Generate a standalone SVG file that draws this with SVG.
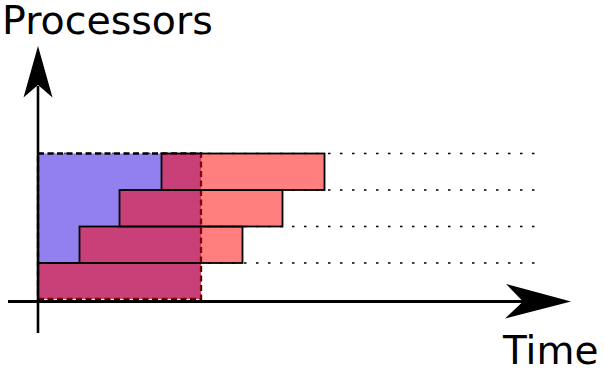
<svg xmlns="http://www.w3.org/2000/svg" width="604" height="375" viewBox="0 0 604 375">
<style>
.lbl{font-family:"DejaVu Sans",sans-serif;fill:#000}
.dot{stroke:#000;stroke-width:1.6;stroke-dasharray:2.5 9.5;fill:none}
.bar{fill:#ff0000;fill-opacity:0.5;stroke:#000;stroke-width:1.8}
.axis{stroke:#000;fill:none}
</style>
<rect width="604" height="375" fill="#fff"/>
<g id="grid">
<line class="dot" x1="40" y1="153.5" x2="540" y2="153.5"/>
<line class="dot" x1="40" y1="190" x2="540" y2="190"/>
<line class="dot" x1="40" y1="226.5" x2="540" y2="226.5"/>
<line class="dot" x1="40" y1="263" x2="535" y2="263"/>
</g>
<g id="sequential">
<rect x="38" y="153.5" width="163" height="145.5" fill="#9180ee" stroke="#000" stroke-width="2.3" stroke-dasharray="6 3.5"/>
</g>
<g id="p1">
<rect x="38" y="263" width="163" height="36" fill="#ff0000" fill-opacity="0.5"/>
<line x1="38" y1="263" x2="201" y2="263" stroke="#000" stroke-width="1.8"/>
</g>
<g id="p2"><rect class="bar" x="79.5" y="226.5" width="163" height="36.5"/></g>
<g id="p3"><rect class="bar" x="119.5" y="190" width="163" height="36.5"/></g>
<g id="p4"><rect class="bar" x="161.5" y="153.5" width="163" height="36.5"/></g>
<g id="connectors">
<line class="axis" x1="38" y1="333" x2="38" y2="86" stroke-width="2.6"/>
<polygon points="38,46 52.5,97.5 38,85 23.5,97.5" fill="#000"/>
<line class="axis" x1="8" y1="301.5" x2="528" y2="301.5" stroke-width="3.2"/>
<polygon points="571,301.5 505,318.5 523,301.5 506,284" fill="#000"/>
</g>
<g id="labels">
<text class="lbl" x="2" y="33.5" font-size="39.5">Processors</text>
<text class="lbl" x="503" y="363.5" font-size="39">Time</text>
</g>
</svg>
